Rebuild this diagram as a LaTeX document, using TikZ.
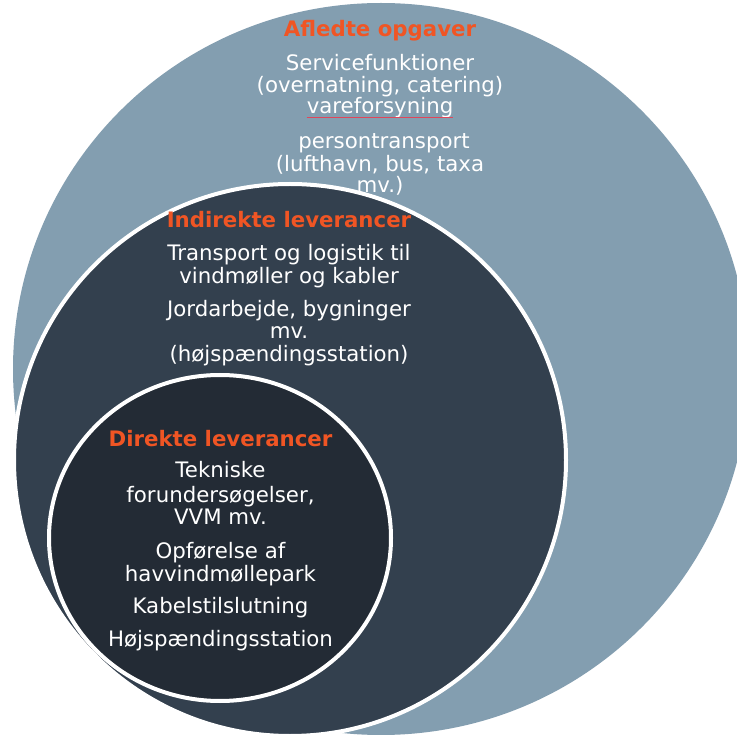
\documentclass[tikz,border=0pt]{standalone}
\usepackage{fontspec}
\setmainfont{DejaVu Sans}
\definecolor{outerc}{HTML}{839EB0}
\definecolor{midc}{HTML}{33404E}
\definecolor{innc}{HTML}{232B35}
\definecolor{titlec}{HTML}{F05524}
\definecolor{squig}{HTML}{E0465A}
\begin{document}
\begin{tikzpicture}[x=1pt,y=-1pt,
  txt/.style={text=white, font=\fontsize{21.3}{22.5}\selectfont, inner sep=0pt, anchor=base},
  ttl/.style={txt, text=titlec, font=\fontsize{21.3}{22.5}\selectfont\bfseries},
  ring/.style={draw=white, line width=4pt}]
\useasboundingbox (0,0) rectangle (737,735);
\clip (0,0) rectangle (737,735);
\fill[white] (0,0) rectangle (737,735);
% circles
\fill[outerc] (381,369) ellipse [x radius=368, y radius=366];
\path[fill=midc, ring] (290,460) circle [radius=276];
\path[fill=innc, ring] (220,538) ellipse [x radius=171, y radius=163];
% outer texts
\node[ttl] (at) at (380,37) {Afledte opgaver};
\node[txt] (a1) at (380,71) {Servicefunktioner};
\node[txt] (a2) at (380,93) {(overnatning, catering)};
\node[txt] (a3) at (380,114) {vareforsyning};
\node[txt] (a4) at (384,149) {persontransport};
\node[txt] (a5) at (380,172) {(lufthavn, bus, taxa};
\node[txt] (a6) at (380,193) {mv.)};
\draw[squig, line width=1.1pt] ([yshift=-3.8pt]a3.base west) -- ([yshift=-3.8pt]a3.base east);
% middle texts
\node[ttl] (bt) at (289,227.5) {Indirekte leverancer};
\node[txt] (b1) at (289,261) {Transport og logistik til};
\node[txt] (b2) at (289,284) {vindmøller og kabler};
\node[txt] (b3) at (289,316.5) {Jordarbejde, bygninger};
\node[txt] (b4) at (289,339) {mv.};
\node[txt] (b5) at (289,361.5) {(højspændingsstation)};
% inner texts
\node[ttl] (ct) at (220.5,447) {Direkte leverancer};
\node[txt] (c1) at (220.5,478) {Tekniske};
\node[txt] (c2) at (220.5,502.5) {forundersøgelser,};
\node[txt] (c3) at (220.5,525) {VVM mv.};
\node[txt] (c4) at (220.5,558) {Opførelse af};
\node[txt] (c5) at (220.5,581.5) {havvindmøllepark};
\node[txt] (c6) at (220.5,613) {Kabelstilslutning};
\node[txt] (c7) at (220.5,646) {Højspændingsstation};
\end{tikzpicture}
\end{document}
